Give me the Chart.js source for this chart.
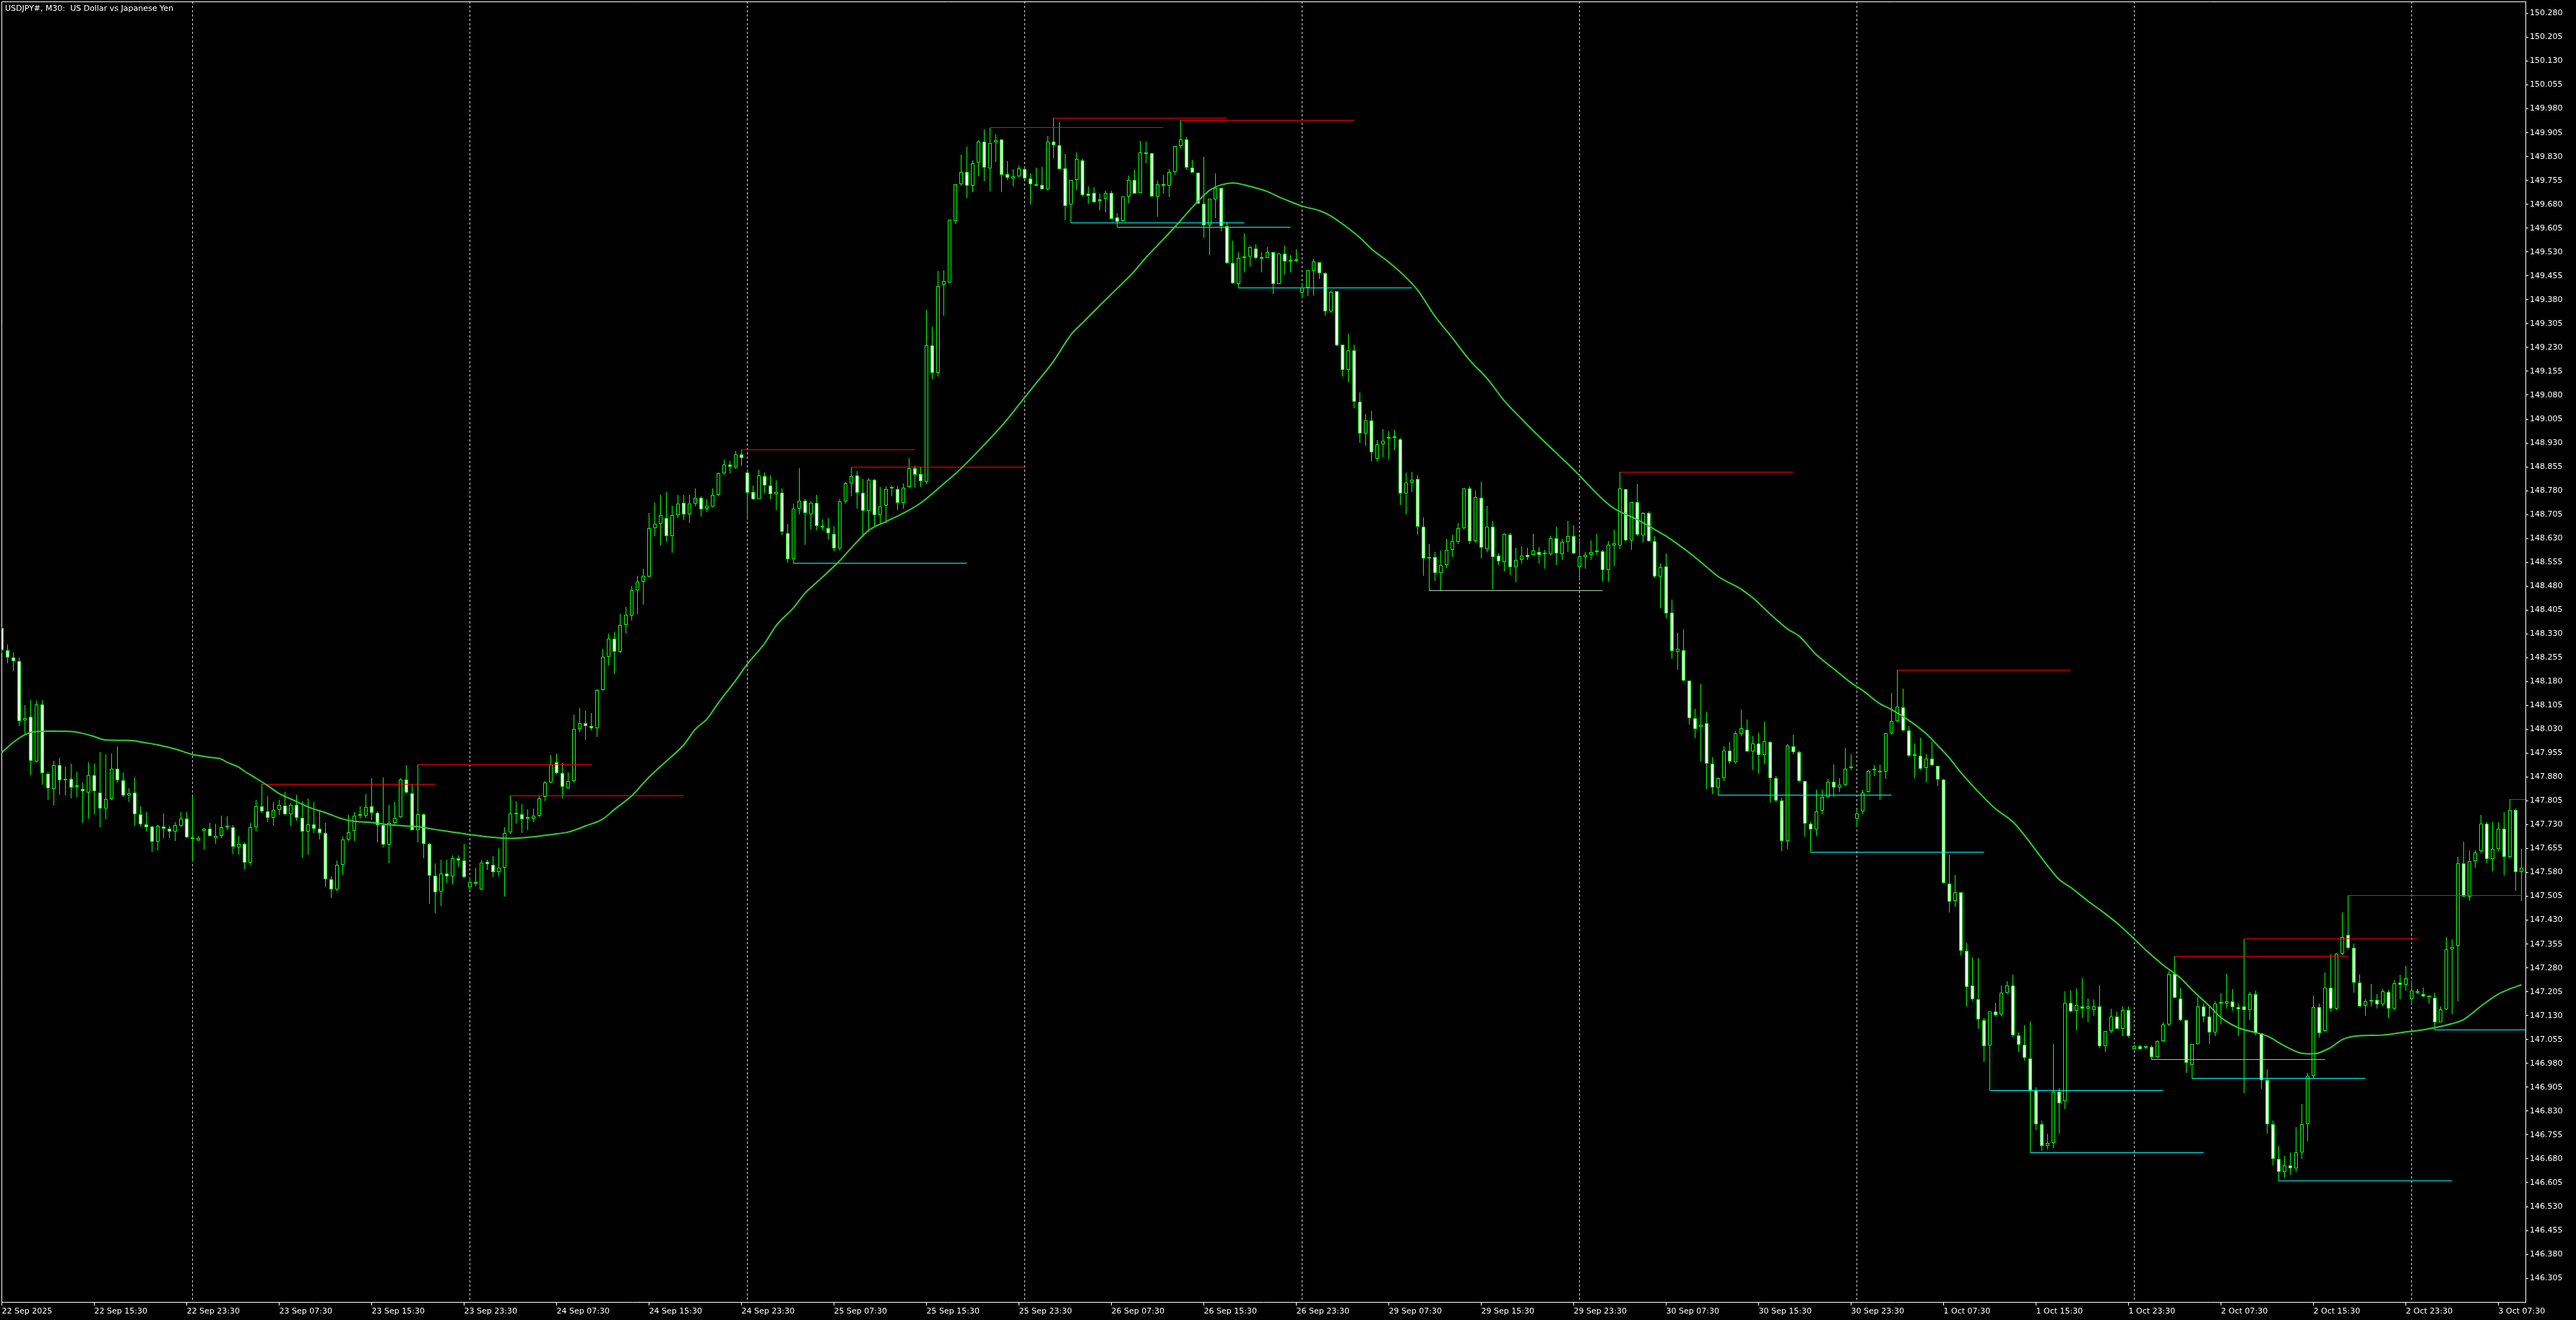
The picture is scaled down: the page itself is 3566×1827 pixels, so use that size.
<!DOCTYPE html>
<html>
<head>
<meta charset="utf-8">
<title>USDJPY#, M30</title>
<script src="https://cdn.jsdelivr.net/npm/chart.js@4.4.1/dist/chart.umd.min.js"></script>
<style>
  html, body { margin: 0; padding: 0; background: #000; overflow: hidden; }
  canvas { display: block; }
</style>
</head>
<body>
<canvas id="chart" width="3566" height="1827"></canvas>
<script>
// USDJPY# M30 candles, 22 Sep 07:30 -> 3 Oct 09:00, one entry per bar

const TITLE = 'USDJPY#, M30:  US Dollar vs Japanese Yen';

const xLabels = [
  '22 Sep 2025', '22 Sep 15:30', '22 Sep 23:30', '23 Sep 07:30', '23 Sep 15:30', '23 Sep 23:30',
  '24 Sep 07:30', '24 Sep 15:30', '24 Sep 23:30', '25 Sep 07:30', '25 Sep 15:30', '25 Sep 23:30',
  '26 Sep 07:30', '26 Sep 15:30', '26 Sep 23:30', '29 Sep 07:30', '29 Sep 15:30', '29 Sep 23:30',
  '30 Sep 07:30', '30 Sep 15:30', '30 Sep 23:30', '1 Oct 07:30', '1 Oct 15:30', '1 Oct 23:30',
  '2 Oct 07:30', '2 Oct 15:30', '2 Oct 23:30', '3 Oct 07:30'
];
const LABEL_EVERY = 16; // bars between time labels

const yTicks = [
  150.280, 150.205, 150.130, 150.055, 149.980, 149.905, 149.830, 149.755, 149.680, 149.605,
  149.530, 149.455, 149.380, 149.305, 149.230, 149.155, 149.080, 149.005, 148.930, 148.855,
  148.780, 148.705, 148.630, 148.555, 148.480, 148.405, 148.330, 148.255, 148.180, 148.105,
  148.030, 147.955, 147.880, 147.805, 147.730, 147.655, 147.580, 147.505, 147.430, 147.355,
  147.280, 147.205, 147.130, 147.055, 146.980, 146.905, 146.830, 146.755, 146.680, 146.605,
  146.530, 146.455, 146.380, 146.305
];

// day separators (00:00 bars)
const sepBars = [33, 81, 129, 177, 225, 273, 321, 369, 417];

const opens = [
  148.348, 148.278, 148.256, 148.244, 148.059, 148.069, 147.929, 148.107, 147.889, 147.843,
  147.918, 147.873, 147.875, 147.849, 147.843, 147.832, 147.885, 147.832, 147.781, 147.811,
  147.905, 147.869, 147.822, 147.830, 147.762, 147.732, 147.724, 147.676, 147.724, 147.718,
  147.709, 147.726, 147.749, 147.688, 147.681, 147.711, 147.717, 147.688, 147.694, 147.724,
  147.722, 147.658, 147.669, 147.610, 147.721, 147.789, 147.773, 147.752, 147.777, 147.790,
  147.764, 147.792, 147.752, 147.709, 147.732, 147.718, 147.703, 147.558, 147.527, 147.603,
  147.683, 147.711, 147.758, 147.758, 147.788, 147.767, 147.730, 147.667, 147.735, 147.754,
  147.873, 147.828, 147.714, 147.762, 147.669, 147.571, 147.521, 147.576, 147.567, 147.624,
  147.618, 147.533, 147.544, 147.527, 147.612, 147.603, 147.581, 147.594, 147.707, 147.768,
  147.763, 147.750, 147.750, 147.758, 147.817, 147.862, 147.927, 147.893, 147.845, 147.868,
  148.030, 148.049, 148.040, 148.034, 148.154, 148.257, 148.314, 148.273, 148.359, 148.387,
  148.468, 148.493, 148.510, 148.662, 148.676, 148.693, 148.637, 148.704, 148.742, 148.705,
  148.740, 148.758, 148.723, 148.731, 148.766, 148.835, 148.861, 148.853, 148.893, 148.838,
  148.776, 148.752, 148.825, 148.797, 148.770, 148.773, 148.647, 148.565, 148.724, 148.748,
  148.706, 148.742, 148.670, 148.663, 148.645, 148.598, 148.746, 148.802, 148.827, 148.774,
  148.716, 148.814, 148.704, 148.733, 148.786, 148.784, 148.741, 148.792, 148.850, 148.833,
  148.807, 149.236, 149.150, 149.427, 149.435, 149.628, 149.743, 149.781, 149.738, 149.810,
  149.876, 149.794, 149.874, 149.883, 149.774, 149.762, 149.769, 149.790, 149.762, 149.743,
  149.741, 149.726, 149.876, 149.866, 149.792, 149.679, 149.756, 149.819, 149.713, 149.716,
  149.695, 149.697, 149.716, 149.638, 149.628, 149.705, 149.756, 149.716, 149.844, 149.840,
  149.705, 149.744, 149.739, 149.781, 149.863, 149.883, 149.796, 149.779, 149.682, 149.614,
  149.695, 149.732, 149.612, 149.495, 149.430, 149.512, 149.517, 149.542, 149.512, 149.512,
  149.529, 149.430, 149.525, 149.504, 149.502, 149.402, 149.419, 149.471, 149.497, 149.463,
  149.344, 149.406, 149.238, 149.160, 149.220, 149.060, 148.960, 149.000, 148.880, 148.926,
  148.944, 148.945, 148.942, 148.771, 148.805, 148.817, 148.666, 148.571, 148.572, 148.521,
  148.546, 148.593, 148.618, 148.662, 148.786, 148.621, 148.758, 148.597, 148.666, 148.575,
  148.556, 148.641, 148.540, 148.562, 148.578, 148.578, 148.588, 148.580, 148.581, 148.631,
  148.581, 148.618, 148.637, 148.540, 148.572, 148.578, 148.587, 148.590, 148.531, 148.608,
  148.608, 148.784, 148.624, 148.743, 148.640, 148.709, 148.622, 148.509, 148.541, 148.396,
  148.273, 148.278, 148.182, 148.064, 148.037, 148.048, 147.921, 147.846, 147.877, 147.962,
  147.927, 148.014, 148.029, 147.961, 147.985, 147.949, 147.989, 147.877, 147.805, 147.680,
  147.977, 147.958, 147.868, 147.733, 147.715, 147.775, 147.818, 147.866, 147.846, 147.856,
  147.908, 147.749, 147.771, 147.834, 147.902, 147.894, 147.898, 148.018, 148.055, 148.098,
  148.027, 147.946, 147.946, 147.908, 147.937, 147.915, 147.871, 147.545, 147.491, 147.518,
  147.333, 147.224, 147.181, 147.116, 147.037, 147.143, 147.134, 147.201, 147.224, 147.069,
  147.039, 146.996, 146.895, 146.788, 146.720, 146.730, 146.892, 146.861, 147.171, 147.145,
  147.160, 147.153, 147.148, 147.160, 147.034, 147.082, 147.128, 147.089, 147.148, 147.025,
  147.034, 147.029, 147.032, 147.001, 147.049, 147.102, 147.262, 147.184, 147.116, 146.976,
  147.042, 147.158, 147.128, 147.077, 147.168, 147.168, 147.176, 147.156, 147.158, 147.148,
  147.197, 147.075, 146.927, 146.788, 146.680, 146.640, 146.660, 146.650, 146.700, 146.788,
  146.940, 147.156, 147.082, 147.217, 147.153, 147.324, 147.383, 147.343, 147.234, 147.161,
  147.176, 147.179, 147.165, 147.204, 147.153, 147.234, 147.227, 147.181, 147.201, 147.197,
  147.189, 147.187, 147.110, 147.151, 147.339, 147.349, 147.609, 147.505, 147.616, 147.647,
  147.734, 147.623, 147.653, 147.718, 147.630, 147.777, 147.581
];

const highs = [
  148.350, 148.297, 148.271, 148.256, 148.106, 148.121, 148.119, 148.121, 147.894, 147.930,
  147.939, 147.913, 147.923, 147.898, 147.862, 147.926, 147.921, 147.958, 147.951, 147.954,
  147.976, 147.894, 147.845, 147.879, 147.788, 147.770, 147.727, 147.730, 147.765, 147.727,
  147.739, 147.770, 147.770, 147.820, 147.694, 147.720, 147.735, 147.734, 147.758, 147.756,
  147.730, 147.694, 147.674, 147.735, 147.809, 147.858, 147.820, 147.802, 147.809, 147.833,
  147.800, 147.824, 147.803, 147.813, 147.802, 147.771, 147.735, 147.567, 147.618, 147.693,
  147.760, 147.770, 147.788, 147.826, 147.876, 147.771, 147.879, 147.793, 147.802, 147.877,
  147.917, 147.856, 147.919, 147.765, 147.673, 147.609, 147.621, 147.621, 147.633, 147.633,
  147.669, 147.566, 147.594, 147.621, 147.620, 147.631, 147.657, 147.723, 147.821, 147.804,
  147.794, 147.778, 147.781, 147.819, 147.868, 147.949, 147.953, 147.925, 147.895, 148.077,
  148.096, 148.088, 148.081, 148.156, 148.283, 148.331, 148.336, 148.392, 148.415, 148.480,
  148.513, 148.534, 148.709, 148.741, 148.766, 148.776, 148.733, 148.766, 148.766, 148.766,
  148.788, 148.762, 148.752, 148.786, 148.838, 148.879, 148.873, 148.904, 148.909, 148.843,
  148.797, 148.845, 148.838, 148.827, 148.812, 148.787, 148.675, 148.739, 148.850, 148.752,
  148.746, 148.766, 148.689, 148.693, 148.670, 148.752, 148.807, 148.853, 148.841, 148.817,
  148.819, 148.817, 148.792, 148.794, 148.797, 148.797, 148.802, 148.883, 148.858, 148.853,
  149.347, 149.296, 149.470, 149.473, 149.631, 149.743, 149.836, 149.860, 149.818, 149.881,
  149.915, 149.921, 149.900, 149.883, 149.816, 149.791, 149.803, 149.796, 149.777, 149.796,
  149.797, 149.894, 149.951, 149.938, 149.838, 149.756, 149.843, 149.822, 149.737, 149.735,
  149.713, 149.723, 149.722, 149.652, 149.704, 149.771, 149.788, 149.879, 149.877, 149.841,
  149.754, 149.773, 149.791, 149.864, 149.944, 149.891, 149.820, 149.779, 149.830, 149.698,
  149.777, 149.732, 149.626, 149.567, 149.529, 149.588, 149.550, 149.554, 149.529, 149.546,
  149.529, 149.527, 149.551, 149.520, 149.539, 149.429, 149.472, 149.508, 149.497, 149.467,
  149.410, 149.406, 149.240, 149.274, 149.240, 149.090, 149.020, 149.030, 148.940, 148.973,
  148.967, 148.971, 148.945, 148.836, 148.840, 148.827, 148.697, 148.612, 148.587, 148.591,
  148.627, 148.641, 148.677, 148.786, 148.793, 148.780, 148.808, 148.733, 148.684, 148.583,
  148.647, 148.647, 148.600, 148.606, 148.600, 148.643, 148.602, 148.593, 148.637, 148.666,
  148.627, 148.684, 148.671, 148.631, 148.587, 148.624, 148.643, 148.593, 148.622, 148.658,
  148.839, 148.784, 148.743, 148.801, 148.712, 148.714, 148.637, 148.550, 148.583, 148.438,
  148.332, 148.344, 148.182, 148.095, 148.172, 148.086, 147.942, 147.879, 147.977, 147.989,
  148.024, 148.093, 148.061, 148.008, 148.020, 148.054, 147.993, 147.883, 147.815, 147.983,
  148.012, 147.962, 147.868, 147.740, 147.840, 147.840, 147.874, 147.919, 147.877, 147.971,
  147.952, 147.777, 147.840, 147.902, 147.917, 147.919, 148.020, 148.145, 148.217, 148.157,
  148.039, 147.985, 148.004, 147.952, 147.989, 147.916, 147.875, 147.635, 147.572, 147.518,
  147.359, 147.314, 147.310, 147.123, 147.143, 147.170, 147.224, 147.239, 147.260, 147.077,
  147.099, 147.112, 146.905, 146.800, 146.760, 147.042, 146.902, 147.207, 147.209, 147.216,
  147.247, 147.184, 147.181, 147.224, 147.082, 147.153, 147.143, 147.158, 147.158, 147.039,
  147.039, 147.032, 147.037, 147.052, 147.108, 147.270, 147.317, 147.219, 147.118, 147.042,
  147.189, 147.168, 147.158, 147.176, 147.199, 147.262, 147.214, 147.168, 147.371, 147.204,
  147.209, 147.075, 146.961, 146.800, 146.720, 146.690, 146.700, 146.780, 146.852, 146.950,
  147.194, 147.168, 147.265, 147.322, 147.326, 147.454, 147.508, 147.356, 147.260, 147.181,
  147.229, 147.197, 147.214, 147.211, 147.241, 147.260, 147.286, 147.241, 147.214, 147.219,
  147.194, 147.201, 147.158, 147.376, 147.371, 147.630, 147.677, 147.650, 147.650, 147.761,
  147.738, 147.738, 147.738, 147.769, 147.810, 147.782, 147.653
];

const lows = [
  148.270, 148.238, 148.213, 148.040, 148.013, 147.885, 147.926, 147.855, 147.809, 147.790,
  147.824, 147.822, 147.813, 147.818, 147.735, 147.749, 147.762, 147.722, 147.747, 147.808,
  147.862, 147.818, 147.802, 147.726, 147.724, 147.709, 147.646, 147.650, 147.689, 147.688,
  147.680, 147.722, 147.688, 147.612, 147.680, 147.652, 147.692, 147.669, 147.689, 147.714,
  147.639, 147.635, 147.591, 147.605, 147.709, 147.767, 147.737, 147.726, 147.760, 147.760,
  147.727, 147.742, 147.627, 147.636, 147.703, 147.684, 147.533, 147.500, 147.521, 147.573,
  147.680, 147.680, 147.749, 147.752, 147.745, 147.674, 147.659, 147.609, 147.730, 147.752,
  147.828, 147.714, 147.674, 147.624, 147.482, 147.452, 147.475, 147.548, 147.542, 147.597,
  147.564, 147.525, 147.535, 147.525, 147.588, 147.566, 147.568, 147.505, 147.702, 147.733,
  147.705, 147.713, 147.738, 147.753, 147.804, 147.860, 147.888, 147.814, 147.843, 147.862,
  148.022, 147.996, 148.027, 148.007, 148.151, 148.230, 148.204, 148.270, 148.331, 148.371,
  148.392, 148.422, 148.508, 148.638, 148.607, 148.618, 148.584, 148.694, 148.686, 148.678,
  148.731, 148.698, 148.711, 148.729, 148.762, 148.831, 148.835, 148.848, 148.858, 148.691,
  148.750, 148.752, 148.772, 148.752, 148.718, 148.640, 148.554, 148.551, 148.706, 148.610,
  148.658, 148.655, 148.655, 148.625, 148.589, 148.591, 148.739, 148.762, 148.723, 148.635,
  148.650, 148.670, 148.673, 148.679, 148.762, 148.718, 148.723, 148.790, 148.790, 148.792,
  148.800, 149.130, 149.140, 149.330, 149.433, 149.618, 149.738, 149.700, 149.719, 149.768,
  149.751, 149.720, 149.813, 149.718, 149.757, 149.737, 149.763, 149.758, 149.680, 149.738,
  149.726, 149.724, 149.825, 149.788, 149.629, 149.622, 149.724, 149.705, 149.682, 149.686,
  149.662, 149.654, 149.635, 149.608, 149.626, 149.684, 149.713, 149.716, 149.809, 149.705,
  149.641, 149.713, 149.703, 149.773, 149.854, 149.788, 149.779, 149.682, 149.576, 149.520,
  149.637, 149.595, 149.493, 149.430, 149.417, 149.467, 149.483, 149.506, 149.467, 149.511,
  149.397, 149.429, 149.459, 149.467, 149.497, 149.385, 149.391, 149.394, 149.446, 149.329,
  149.338, 149.234, 149.140, 149.120, 149.040, 148.930, 148.920, 148.870, 148.870, 148.884,
  148.877, 148.908, 148.734, 148.705, 148.776, 148.641, 148.512, 148.465, 148.497, 148.465,
  148.537, 148.572, 148.612, 148.658, 148.612, 148.616, 148.567, 148.587, 148.472, 148.546,
  148.525, 148.515, 148.491, 148.550, 148.562, 148.575, 148.552, 148.535, 148.577, 148.546,
  148.562, 148.587, 148.581, 148.500, 148.535, 148.562, 148.578, 148.494, 148.494, 148.541,
  148.596, 148.622, 148.593, 148.637, 148.616, 148.618, 148.506, 148.410, 148.378, 148.251,
  148.217, 148.180, 148.045, 148.002, 147.929, 147.843, 147.827, 147.824, 147.867, 147.923,
  147.923, 148.008, 147.958, 147.902, 147.889, 147.923, 147.800, 147.802, 147.647, 147.653,
  147.952, 147.862, 147.693, 147.643, 147.694, 147.762, 147.815, 147.817, 147.833, 147.852,
  147.902, 147.721, 147.762, 147.830, 147.883, 147.809, 147.874, 148.014, 148.051, 148.024,
  147.942, 147.877, 147.902, 147.862, 147.914, 147.852, 147.545, 147.454, 147.473, 147.321,
  147.160, 147.178, 147.089, 146.984, 146.895, 147.128, 147.128, 147.199, 147.062, 147.016,
  146.988, 146.700, 146.770, 146.705, 146.710, 146.715, 146.760, 146.836, 147.140, 147.085,
  147.123, 147.108, 147.130, 147.029, 147.016, 147.075, 147.089, 147.067, 147.062, 147.022,
  147.022, 147.025, 146.991, 146.996, 147.047, 147.098, 147.184, 147.113, 146.950, 146.933,
  147.039, 147.108, 147.042, 147.065, 147.103, 147.153, 147.145, 147.067, 146.887, 147.116,
  147.069, 146.900, 146.760, 146.660, 146.610, 146.620, 146.630, 146.640, 146.680, 146.735,
  146.933, 147.062, 147.077, 147.143, 147.148, 147.321, 147.339, 147.201, 147.158, 147.130,
  147.160, 147.153, 147.158, 147.123, 147.148, 147.181, 147.209, 147.166, 147.197, 147.189,
  147.168, 147.085, 147.108, 147.148, 147.133, 147.174, 147.505, 147.491, 147.594, 147.640,
  147.609, 147.584, 147.647, 147.569, 147.625, 147.523, 147.491
];

const closes = [
  148.278, 148.256, 148.244, 148.057, 148.066, 147.932, 148.107, 147.892, 147.845, 147.917,
  147.870, 147.870, 147.848, 147.849, 147.835, 147.885, 147.835, 147.781, 147.811, 147.905,
  147.869, 147.822, 147.828, 147.762, 147.732, 147.721, 147.676, 147.726, 147.718, 147.709,
  147.728, 147.749, 147.691, 147.686, 147.688, 147.717, 147.694, 147.694, 147.722, 147.722,
  147.660, 147.669, 147.610, 147.721, 147.789, 147.773, 147.752, 147.777, 147.792, 147.764,
  147.792, 147.752, 147.709, 147.732, 147.718, 147.703, 147.558, 147.527, 147.603, 147.683,
  147.707, 147.758, 147.758, 147.785, 147.767, 147.730, 147.667, 147.735, 147.752, 147.873,
  147.832, 147.714, 147.762, 147.669, 147.571, 147.518, 147.576, 147.567, 147.624, 147.618,
  147.566, 147.550, 147.545, 147.610, 147.606, 147.581, 147.594, 147.705, 147.766, 147.763,
  147.746, 147.750, 147.758, 147.814, 147.862, 147.920, 147.893, 147.849, 147.868, 148.030,
  148.049, 148.040, 148.034, 148.154, 148.257, 148.314, 148.273, 148.359, 148.390, 148.468,
  148.493, 148.512, 148.662, 148.676, 148.704, 148.637, 148.704, 148.740, 148.705, 148.740,
  148.758, 148.721, 148.733, 148.766, 148.835, 148.861, 148.855, 148.893, 148.883, 148.774,
  148.754, 148.827, 148.797, 148.769, 148.776, 148.650, 148.565, 148.724, 148.748, 148.709,
  148.741, 148.670, 148.665, 148.647, 148.598, 148.746, 148.802, 148.825, 148.774, 148.716,
  148.814, 148.704, 148.731, 148.784, 148.787, 148.741, 148.790, 148.850, 148.830, 148.809,
  149.236, 149.150, 149.423, 149.438, 149.631, 149.743, 149.781, 149.738, 149.809, 149.876,
  149.796, 149.872, 149.881, 149.773, 149.764, 149.769, 149.792, 149.762, 149.744, 149.739,
  149.728, 149.876, 149.866, 149.790, 149.676, 149.756, 149.822, 149.708, 149.707, 149.687,
  149.690, 149.716, 149.635, 149.626, 149.704, 149.756, 149.714, 149.842, 149.839, 149.705,
  149.744, 149.739, 149.781, 149.863, 149.883, 149.796, 149.779, 149.682, 149.614, 149.698,
  149.732, 149.611, 149.495, 149.433, 149.512, 149.516, 149.545, 149.512, 149.509, 149.529,
  149.430, 149.525, 149.499, 149.499, 149.502, 149.419, 149.472, 149.499, 149.463, 149.344,
  149.404, 149.236, 149.160, 149.220, 149.060, 148.960, 149.000, 148.900, 148.926, 148.938,
  148.945, 148.946, 148.771, 148.805, 148.815, 148.666, 148.567, 148.566, 148.521, 148.546,
  148.593, 148.621, 148.662, 148.786, 148.622, 148.759, 148.600, 148.666, 148.572, 148.558,
  148.643, 148.540, 148.562, 148.577, 148.572, 148.591, 148.578, 148.580, 148.631, 148.582,
  148.618, 148.637, 148.583, 148.573, 148.578, 148.588, 148.587, 148.531, 148.611, 148.614,
  148.786, 148.624, 148.743, 148.641, 148.709, 148.622, 148.509, 148.540, 148.394, 148.276,
  148.282, 148.184, 148.064, 148.030, 148.044, 147.921, 147.846, 147.877, 147.962, 147.929,
  148.018, 148.033, 147.961, 147.985, 147.949, 147.992, 147.877, 147.805, 147.680, 147.979,
  147.958, 147.867, 147.734, 147.715, 147.771, 147.818, 147.865, 147.846, 147.856, 147.906,
  147.909, 147.765, 147.830, 147.900, 147.902, 147.898, 148.018, 148.055, 148.101, 148.027,
  147.946, 147.946, 147.905, 147.937, 147.918, 147.871, 147.548, 147.488, 147.518, 147.333,
  147.221, 147.181, 147.118, 147.034, 147.143, 147.131, 147.201, 147.224, 147.069, 147.039,
  146.998, 146.895, 146.788, 146.720, 146.730, 146.892, 146.854, 147.171, 147.143, 147.163,
  147.153, 147.158, 147.160, 147.034, 147.082, 147.128, 147.089, 147.148, 147.067, 147.034,
  147.025, 147.029, 147.001, 147.049, 147.102, 147.262, 147.187, 147.116, 146.981, 147.042,
  147.158, 147.128, 147.077, 147.168, 147.168, 147.176, 147.156, 147.151, 147.148, 147.197,
  147.075, 146.927, 146.788, 146.680, 146.640, 146.660, 146.650, 146.700, 146.788, 146.940,
  147.156, 147.075, 147.217, 147.153, 147.324, 147.376, 147.343, 147.234, 147.160, 147.176,
  147.176, 147.165, 147.206, 147.153, 147.231, 147.227, 147.248, 147.209, 147.201, 147.191,
  147.189, 147.110, 147.151, 147.339, 147.346, 147.609, 147.505, 147.616, 147.643, 147.734,
  147.623, 147.653, 147.718, 147.630, 147.777, 147.581, 147.596
];

// moving average, read at sample bars
const maBars = [
  0, 2, 4, 6, 9, 12, 14, 16, 18, 22,
  25, 27, 30, 33, 36, 38, 39, 41, 42, 44,
  46, 48, 51, 53, 56, 59, 61, 64, 67, 70,
  72, 75, 78, 81, 84, 88, 92, 95, 98, 101,
  104, 106, 109, 112, 115, 118, 120, 122, 124, 127,
  129, 132, 134, 137, 139, 142, 145, 147, 150, 153,
  156, 159, 161, 163, 165, 167, 170, 173, 176, 179,
  182, 185, 187, 190, 192, 194, 196, 198, 201, 203,
  205, 207, 209, 211, 213, 216, 219, 221, 223, 225,
  228, 230, 232, 235, 237, 240, 242, 245, 248, 251,
  254, 257, 260, 263, 265, 269, 272, 277, 279, 283,
  286, 288, 292, 295, 297, 301, 303, 306, 309, 311,
  314, 317, 320, 322, 325, 327, 330, 333, 335, 337,
  339, 343, 345, 348, 350, 353, 356, 358, 361, 364,
  366, 369, 371, 374, 377, 379, 382, 384, 387, 390,
  392, 395, 398, 400, 403, 405, 408, 412, 416, 418,
  421, 424, 426, 429, 432, 434, 436
];
const maValues = [
  147.957, 147.989, 148.013, 148.023, 148.024, 148.023, 148.017, 148.007, 147.996, 147.995,
  147.987, 147.981, 147.968, 147.951, 147.942, 147.936, 147.926, 147.911, 147.898, 147.876,
  147.853, 147.828, 147.803, 147.786, 147.768, 147.748, 147.741, 147.737, 147.730, 147.726,
  147.724, 147.715, 147.707, 147.699, 147.692, 147.687, 147.692, 147.699, 147.707, 147.726,
  147.748, 147.778, 147.821, 147.880, 147.930, 147.981, 148.030, 148.062, 148.113, 148.184,
  148.235, 148.300, 148.356, 148.412, 148.458, 148.508, 148.560, 148.600, 148.655, 148.683,
  148.709, 148.741, 148.770, 148.802, 148.833, 148.868, 148.924, 148.983, 149.050, 149.118,
  149.187, 149.270, 149.307, 149.362, 149.398, 149.433, 149.470, 149.513, 149.570, 149.609,
  149.650, 149.690, 149.724, 149.741, 149.747, 149.736, 149.720, 149.703, 149.688, 149.674,
  149.660, 149.643, 149.618, 149.575, 149.540, 149.498, 149.467, 149.410, 149.328, 149.260,
  149.190, 149.133, 149.062, 149.005, 148.968, 148.898, 148.846, 148.753, 148.724, 148.689,
  148.658, 148.637, 148.585, 148.540, 148.510, 148.470, 148.443, 148.392, 148.345, 148.323,
  148.264, 148.220, 148.176, 148.152, 148.110, 148.092, 148.058, 148.016, 147.979, 147.940,
  147.894, 147.815, 147.780, 147.739, 147.697, 147.625, 147.558, 147.533, 147.490, 147.450,
  147.421, 147.371, 147.336, 147.289, 147.248, 147.211, 147.160, 147.124, 147.092, 147.077,
  147.066, 147.035, 147.012, 147.010, 147.030, 147.055, 147.067, 147.069, 147.079, 147.083,
  147.092, 147.105, 147.118, 147.160, 147.198, 147.214, 147.227
];

// fractal levels: start bar and price, each drawn over LEVEL_LEN bars
const resStart = [45, 72, 88, 128, 147, 171, 182, 204, 280, 328, 376, 388, 406, 434];
const resPrice = [147.858, 147.919, 147.821, 148.909, 148.853, 149.921, 149.951, 149.944,
                  148.839, 148.217, 147.317, 147.371, 147.508, 147.810];
const supStart = [137, 185, 193, 214, 297, 313, 344, 351, 372, 379, 394, 421];
const supPrice = [148.551, 149.622, 149.608, 149.417, 147.824, 147.643, 146.895, 146.700,
                  146.991, 146.933, 146.610, 147.085];
const midStart = [247];
const midPrice = [148.465];
const LEVEL_LEN = 30;

// ---- layout (pixels) ----
const PLOT_LEFT = 2, PLOT_TOP = 2, PLOT_RIGHT = 3496, PLOT_BOTTOM = 1802;
const BAR_PX = 8;
const PX_PER_PRICE = 440.4;
const FIRST_TICK_Y = 18.5;

const X_MIN = -0.0625;
const X_MAX = X_MIN + (PLOT_RIGHT - PLOT_LEFT) / BAR_PX;
const Y_MAX = yTicks[0] + (FIRST_TICK_Y - PLOT_TOP) / PX_PER_PRICE;
const Y_MIN = Y_MAX - (PLOT_BOTTOM - PLOT_TOP) / PX_PER_PRICE;

// keep 1px edges on whole device pixels so they stay sharp
const snapEdge = (p) => Y_MAX - Math.round((Y_MAX - p) * PX_PER_PRICE) / PX_PER_PRICE;
const snapLine = (p) => Y_MAX - (Math.floor((Y_MAX - p) * PX_PER_PRICE) + 0.5) / PX_PER_PRICE;

const CANDLE = '#00ff00';
const MA_COLOR = '#32cd32';
const RES_COLOR = '#ff0000';
const SUP_COLOR = '#00ffff';
const MID_COLOR = '#b4ccb4';
const FONT = { family: '"DejaVu Sans", sans-serif', size: 11 };

const wickData = opens.map((_, i) => ({ x: i, y: [snapEdge(lows[i]), snapEdge(highs[i])] }));
const bodyData = opens.map((o, i) => ({ x: i, y: [snapEdge(o), snapEdge(closes[i])], bear: closes[i] < o }));
const maData = maBars.map((b, k) => ({ x: b, y: maValues[k] }));

const levelLine = (start, price, color) => ({
  type: 'line',
  data: [{ x: start, y: snapLine(price) }, { x: start + LEVEL_LEN, y: snapLine(price) }],
  borderColor: color,
  borderWidth: 1,
  pointRadius: 0,
  order: 1,
  clip: 0
});

const levelSets = [
  ...resStart.map((s, k) => levelLine(s, resPrice[k], RES_COLOR)),
  ...supStart.map((s, k) => levelLine(s, supPrice[k], SUP_COLOR)),
  ...midStart.map((s, k) => levelLine(s, midPrice[k], MID_COLOR))
];

// frame on left/top and the symbol caption
const framePlugin = {
  id: 'frame',
  beforeDatasetsDraw(chart) {
    const { ctx, chartArea: a } = chart;
    ctx.save();
    ctx.strokeStyle = '#ffffff';
    ctx.lineWidth = 1;
    ctx.beginPath();
    ctx.moveTo(a.left + 0.5, a.bottom);
    ctx.lineTo(a.left + 0.5, a.top + 0.5);
    ctx.lineTo(a.right, a.top + 0.5);
    ctx.stroke();
    ctx.restore();
  },
  afterDraw(chart) {
    const { ctx } = chart;
    ctx.save();
    ctx.fillStyle = '#ffffff';
    ctx.font = `${FONT.size}px ${FONT.family}`;
    ctx.textBaseline = 'middle';
    ctx.fillText(TITLE, 7, 12);
    ctx.restore();
  }
};

new Chart(document.getElementById('chart'), {
  type: 'bar',
  data: {
    datasets: [
      {
        type: 'line',
        label: 'MA',
        data: maData,
        borderColor: MA_COLOR,
        borderWidth: 2,
        pointRadius: 0,
        cubicInterpolationMode: 'monotone',
        order: 0,
        clip: 0
      },
      ...levelSets,
      {
        label: 'body',
        data: bodyData,
        grouped: false,
        order: 2,
        barThickness: 5,
        borderWidth: 1,
        borderColor: CANDLE,
        borderSkipped: false,
        inflateAmount: 0,
        minBarLength: 2,
        backgroundColor: (c) => (c.raw && c.raw.bear) ? '#ffffff' : '#000000'
      },
      {
        label: 'wick',
        data: wickData,
        grouped: false,
        order: 3,
        barThickness: 1,
        borderWidth: 0,
        inflateAmount: 0,
        minBarLength: 1,
        backgroundColor: CANDLE
      }
    ]
  },
  options: {
    responsive: false,
    animation: false,
    devicePixelRatio: 1,
    events: [],
    layout: { padding: { left: PLOT_LEFT, top: PLOT_TOP, right: 0, bottom: 0 }, autoPadding: false },
    plugins: { legend: { display: false }, tooltip: { enabled: false }, title: { display: false } },
    scales: {
      x: {
        type: 'linear',
        position: 'bottom',
        min: X_MIN,
        max: X_MAX,
        offset: false,
        afterBuildTicks: (s) => { s.ticks = xLabels.map((_, k) => ({ value: k * LABEL_EVERY })); },
        afterFit: (s) => { s.height = 1827 - PLOT_BOTTOM; s.paddingLeft = 0; s.paddingRight = 0; },
        ticks: {
          color: '#ffffff',
          font: FONT,
          autoSkip: false,
          maxRotation: 0,
          minRotation: 0,
          align: 'start',
          padding: 2,
          callback: (v, i) => xLabels[i]
        },
        grid: { display: true, offset: false, drawOnChartArea: false, drawTicks: true, tickLength: 5, tickColor: '#ffffff', color: '#ffffff' },
        border: { display: true, color: '#ffffff', width: 1 }
      },
      xSep: {
        type: 'linear',
        position: 'bottom',
        min: X_MIN,
        max: X_MAX,
        offset: false,
        afterBuildTicks: (s) => { s.ticks = sepBars.map(v => ({ value: v })); },
        afterFit: (s) => { s.height = 0; s.paddingLeft = 0; s.paddingRight = 0; },
        ticks: { display: false },
        grid: { display: true, offset: false, drawOnChartArea: true, drawTicks: false, color: '#d0d0d0', lineWidth: 1 },
        border: { display: false, dash: [3, 3] }
      },
      y: {
        type: 'linear',
        position: 'right',
        min: Y_MIN,
        max: Y_MAX,
        beginAtZero: false,
        afterBuildTicks: (s) => { s.ticks = yTicks.map(v => ({ value: v })); },
        afterFit: (s) => { s.width = 3566 - PLOT_RIGHT; s.paddingTop = 0; s.paddingBottom = 0; },
        ticks: {
          color: '#ffffff',
          font: FONT,
          autoSkip: false,
          padding: 2,
          callback: (v) => Number(v).toFixed(3)
        },
        grid: { display: true, drawOnChartArea: false, drawTicks: true, tickLength: 4, tickColor: '#ffffff', color: '#ffffff' },
        border: { display: true, color: '#ffffff', width: 1 }
      }
    }
  },
  plugins: [framePlugin]
});
</script>
</body>
</html>
